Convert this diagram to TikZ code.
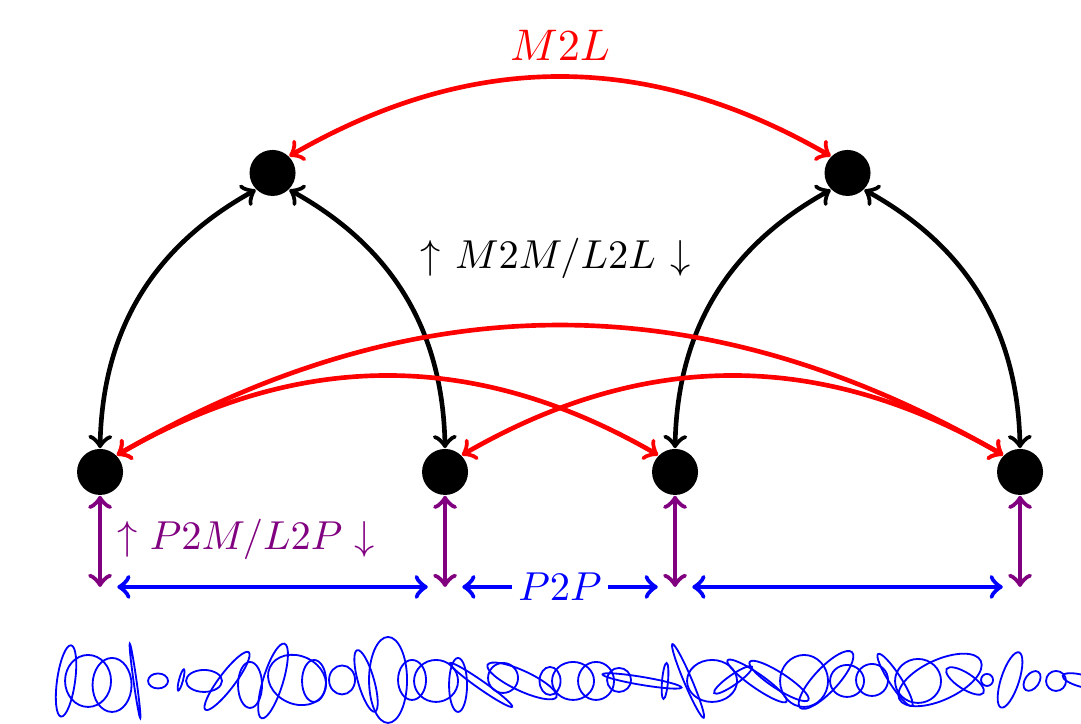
\documentclass[tikz,border=0pt]{standalone}
\usepackage{amsmath}
\definecolor{pviolet}{rgb}{0.5,0,0.5}
\begin{document}
\begin{tikzpicture}[
  dot/.style={circle,fill=black,inner sep=0pt,minimum size=0.4cm},
  conn/.style={<->,line width=1.15pt},
  redconn/.style={conn,red},
  pconn/.style={conn,pviolet},
  bconn/.style={conn,blue},
  scrib/.style={blue,line width=0.45pt}
]
\useasboundingbox (-0.870,-2.191) rectangle (8.530,4.104);
\node[dot] (t1) at (1.5,2.6) {};
\node[dot] (t2) at (6.5,2.6) {};
\node[dot] (b1) at (0,0) {};
\node[dot] (b2) at (3,0) {};
\node[dot] (b3) at (5,0) {};
\node[dot] (b4) at (8,0) {};
\coordinate (p1) at (0,-1);
\coordinate (p2) at (3,-1);
\coordinate (p3) at (5,-1);
\coordinate (p4) at (8,-1);
% black M2M/L2L
\draw[conn] (t1.south west) to[bend right] (b1.north);
\draw[conn] (t1.south east) to[bend left] (b2.north);
\draw[conn] (t2.south west) to[bend right] (b3.north);
\draw[conn] (t2.south east) to[bend left] (b4.north);
% red M2L
\draw[redconn] (t1.north east) to[bend left] (t2.north west);
\draw[redconn] (b1.north east) to[bend left] (b3.north west);
\draw[redconn] (b1.north east) to[bend left] (b4.north west);
\draw[redconn] (b2.north east) to[bend left] (b4.north west);
% purple
\draw[pconn] (b1.south) -- (p1);
\draw[pconn] (b2.south) -- (p2);
\draw[pconn] (b3.south) -- (p3);
\draw[pconn] (b4.south) -- (p4);
% blue
\draw[bconn] ([xshift=0.15cm]p1) -- ([xshift=-0.15cm]p2);
\draw[bconn] ([xshift=0.15cm]p2) -- node[fill=white,inner sep=1.5pt,font=\fontsize{10.3}{12}\selectfont] (lp2p) {$P2P$} ([xshift=-0.15cm]p3);
\draw[bconn] ([xshift=0.15cm]p3) -- ([xshift=-0.15cm]p4);
% labels
\node[red,font=\fontsize{11.2}{13}\selectfont] (lm2l) at (4.0,3.71) {$M2L$};
\node[font=\fontsize{9.7}{11}\selectfont] (lm2m) at (3.96,1.86) {$\uparrow$\hspace{3.6pt}$M2M/L2L$\hspace{3.6pt}$\downarrow$};
\node[pviolet,font=\fontsize{9.6}{11}\selectfont] (lp2m) at (1.27,-0.59) {$\uparrow$\hspace{3pt}$P2M/L2P$\hspace{3pt}$\downarrow$};
% scribble
\foreach \X/\Y/\A/\B/\R in {
66/681/9/36/-8, 88/681/23/26/0, 112/685/19.5/27/0, 135/681/1.5/37.5/8,
158/681/10/7.5/0, 181/680/2/11/-15, 204/681/18/11/0, 227/681/36/8/53,
250/685/12/23/0, 273/681/10/39/-17, 297/680/30/24/-25, 314/681/12/21/0,
342/680/13/14.5/0, 366/681/8/32/16, 388/680/19/43/0, 412/680/14/20/0,
436/681/22/21/0, 458/685/9/27/0, 481/685/38/4/-35, 503/678/15/15/0,
522/681/38/10/-25, 550/681/10.5/14/0, 573/681/21/19/0, 596/681/18/19/0,
619/680/12/12/0, 642/681/40/4/-9.5, 665/681/3/18/-5, 688/681/4/40/23,
712/681/25/21/0, 733/680/23/5/35, 757/681/36/7/-35, 779/681/35/8/-33,
804/681/24/26/0, 826/680/38/12/47, 847/681/17/16/0, 872/680/16/16/0,
895/680/31/6/-57, 918/681/23/22/0, 940/680/45/20/25, 965/681/22/8/-33,
987/680/6/6/0, 1010/680/9/29/-18, 1032/681/7/11/-35, 1056/681/10/10/0,
1082/681/20/6/-15}
{
  \draw[scrib] ({(\X-100)/115},{(472-\Y)/115}) ellipse[x radius={\A/115}, y radius={\B/115}, rotate=\R];
}
\end{tikzpicture}
\end{document}
